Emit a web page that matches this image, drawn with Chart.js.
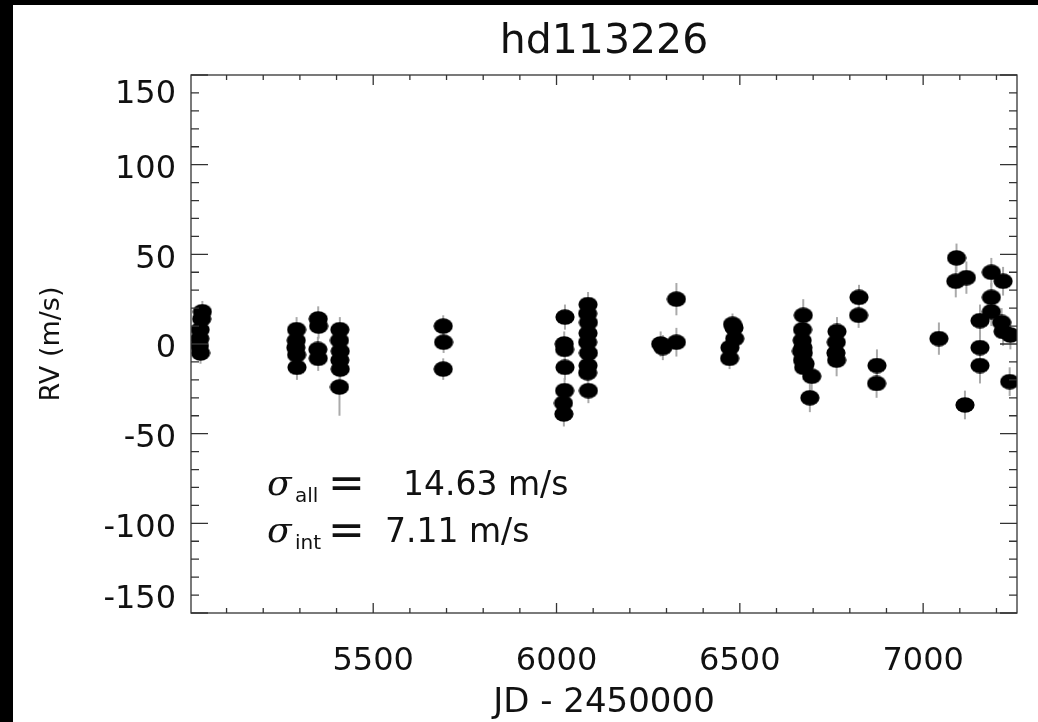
<!DOCTYPE html>
<html>
<head>
<title>hd113226</title>
<script src="https://cdn.jsdelivr.net/npm/chart.js"></script>
<style>
    body { margin: 0; background: #000; }
    #wrap { position: absolute; left: 13px; top: 5px; width: 1025px; height: 717px; background: #fff; }
</style>
</head>
<body>
<div id="wrap"><canvas id="rvChart"></canvas></div>

<script>
// JD - 2450000, RV (m/s), error (m/s)
const jd = [
    5034, 5032, 5028, 5027, 5026, 5029,
    5291, 5290, 5289, 5291, 5292,
    5350, 5351, 5349, 5350,
    5409, 5408, 5410, 5409, 5410, 5408,
    5691, 5692, 5691,
    6023, 6021, 6022, 6023, 6022, 6019, 6020,
    6086, 6085, 6087, 6086, 6085, 6087, 6086, 6085, 6087,
    6284, 6290, 6327, 6327,
    6480, 6484, 6486, 6473, 6472,
    6673, 6671, 6670, 6668, 6672, 6673, 6671, 6678, 6674, 6696, 6691,
    6765, 6763, 6762, 6764,
    6825, 6824,
    6874, 6873,
    7043,
    7091, 7089, 7118, 7114,
    7155, 7155, 7155,
    7186, 7186, 7186,
    7218, 7214, 7218, 7238, 7236
];
const rv = [
    18, 14, 8, 3, -1, -5,
    8, 2, -2, -6, -13,
    14, 10, -3, -8,
    8, 2, -4, -9, -14, -24,
    10, 1, -14,
    15, 0, -3, -13, -26, -33, -39,
    22, 17, 12, 6, 1, -5, -12, -16, -26,
    0, -2, 1, 25,
    11, 9, 3, -2, -8,
    16, 8, 2, -4, -2, -5, -9, -11, -13, -18, -30,
    7, 1, -5, -9,
    26, 16,
    -12, -22,
    3,
    48, 35, 37, -34,
    13, -2, -12,
    40, 26, 18,
    35, 12, 7, 5, -21
];
const rvErr = [
    6, 6, 6, 6, 6, 6,
    7, 7, 7, 7, 7,
    7, 7, 7, 7,
    7, 7, 7, 7, 7, 16,
    6, 6, 6,
    7, 7, 7, 7, 7, 7, 7,
    7, 7, 7, 7, 7, 7, 7, 7, 7,
    7, 7, 8, 9,
    6, 6, 6, 6, 6,
    9, 7, 7, 7, 7, 7, 7, 7, 7, 8, 8,
    8, 8, 8, 9,
    7, 7,
    9, 8,
    9,
    8, 9, 9, 8,
    9, 9, 10,
    8, 8, 8,
    8, 8, 8, 8, 8
];
const xTicks = [5500, 6000, 6500, 7000];
const yTicks = [-150, -100, -50, 0, 50, 100, 150];

const FONT = 'DejaVu Sans';
const INK = '#111';

// elliptical black marker
const dot = document.createElement('canvas');
dot.width = 20;
dot.height = 16;
const dctx = dot.getContext('2d');
dctx.fillStyle = '#000';
dctx.beginPath();
dctx.ellipse(10, 8, 9.6, 7.8, 0, 0, Math.PI * 2);
dctx.fill();

const points = jd.map((x, i) => ({ x: x, y: rv[i], e: rvErr[i] }));

const idlFrame = {
    id: 'idlFrame',
    beforeDatasetsDraw(chart) {
        const ctx = chart.ctx;
        const xs = chart.scales.x, ys = chart.scales.y;
        ctx.save();
        ctx.strokeStyle = '#aaa';
        ctx.lineWidth = 2;
        points.forEach(p => {
            const px = xs.getPixelForValue(p.x);
            ctx.beginPath();
            ctx.moveTo(px, ys.getPixelForValue(p.y - p.e));
            ctx.lineTo(px, ys.getPixelForValue(p.y + p.e));
            ctx.stroke();
        });
        ctx.restore();
    },
    afterDraw(chart) {
        const ctx = chart.ctx;
        const a = chart.chartArea;
        const xs = chart.scales.x, ys = chart.scales.y;
        ctx.save();
        ctx.strokeStyle = '#333';
        ctx.lineWidth = 1.3;
        ctx.strokeRect(a.left, a.top, a.right - a.left, a.bottom - a.top);

        // inward ticks on all four sides
        ctx.beginPath();
        for (let v = Math.ceil(xs.min / 100) * 100; v <= xs.max; v += 100) {
            const px = xs.getPixelForValue(v);
            const len = v % 500 === 0 ? 10 : 5;
            ctx.moveTo(px, a.bottom); ctx.lineTo(px, a.bottom - len);
            ctx.moveTo(px, a.top); ctx.lineTo(px, a.top + len);
        }
        for (let v = Math.ceil(ys.min / 10) * 10; v <= ys.max; v += 10) {
            const py = ys.getPixelForValue(v);
            const len = v % 50 === 0 ? 17 : 8;
            ctx.moveTo(a.left, py); ctx.lineTo(a.left + len, py);
            ctx.moveTo(a.right, py); ctx.lineTo(a.right - len, py);
        }
        ctx.stroke();

        // title centred over the plot frame
        ctx.fillStyle = INK;
        ctx.font = '41px ' + FONT;
        ctx.textAlign = 'center';
        ctx.textBaseline = 'alphabetic';
        ctx.fillText('hd113226', (a.left + a.right) / 2, 48);

        // y tick labels, end labels kept inside the frame
        ctx.font = '32px ' + FONT;
        ctx.textAlign = 'right';
        ctx.textBaseline = 'middle';
        ys.ticks.forEach(t => {
            let py = ys.getPixelForValue(t.value) + 5;
            py = Math.min(Math.max(py, a.top + 20), a.bottom - 13);
            ctx.fillText(String(t.value), a.left - 15, py);
        });

        // sigma annotation
        ctx.textAlign = 'left';
        ctx.textBaseline = 'alphabetic';
        const rows = [
            { sub: 'all', val: '14.63 m/s', vx: 212, base: 420 },
            { sub: 'int', val: '7.11 m/s', vx: 194, base: 467 }
        ];
        rows.forEach(r => {
            const by = a.top + r.base;
            ctx.font = 'italic 36px DejaVu Serif';
            ctx.fillText('\u03C3', a.left + 76, by);
            ctx.font = '20px ' + FONT;
            ctx.fillText(r.sub, a.left + 104, by + 7);
            ctx.font = '44px ' + FONT;
            ctx.fillText('=', a.left + 137, by + 3);
            ctx.font = '33px ' + FONT;
            ctx.fillText(r.val, a.left + r.vx, by);
        });
        ctx.restore();
    }
};

const config = {
    type: 'scatter',
    data: {
        datasets: [{
            data: points,
            pointStyle: dot,
            pointRadius: 9,
            pointHoverRadius: 9
        }]
    },
    options: {
        responsive: true,
        maintainAspectRatio: false,
        animation: false,
        layout: { padding: { left: 0, right: 21, top: 70, bottom: 0 } },
        plugins: {
            legend: { display: false },
            tooltip: { enabled: false },
            title: { display: false }
        },
        scales: {
            x: {
                type: 'linear',
                min: 5003,
                max: 7256,
                afterBuildTicks: s => { s.ticks = xTicks.map(v => ({ value: v })); },
                afterFit: s => { s.height = 109; },
                grid: { display: false, drawTicks: false },
                border: { display: false },
                ticks: {
                    color: INK,
                    font: { family: FONT, size: 32 },
                    padding: 29,
                    maxRotation: 0,
                    callback: v => String(v)
                },
                title: {
                    display: true,
                    text: 'JD - 2450000',
                    color: INK,
                    font: { family: FONT, size: 34 },
                    padding: { top: -2, bottom: -2 }
                }
            },
            y: {
                type: 'linear',
                min: -150,
                max: 150,
                afterBuildTicks: s => { s.ticks = yTicks.map(v => ({ value: v })); },
                afterFit: s => { s.width = 178; },
                grid: { display: false, drawTicks: false },
                border: { display: false },
                ticks: { display: false },
                title: {
                    display: true,
                    text: 'RV (m/s)',
                    color: INK,
                    font: { family: FONT, size: 27 },
                    padding: { top: 23, bottom: 0 }
                }
            }
        }
    },
    plugins: [idlFrame]
};

const rvChart = new Chart(document.getElementById('rvChart'), config);
</script>
</body>
</html>
